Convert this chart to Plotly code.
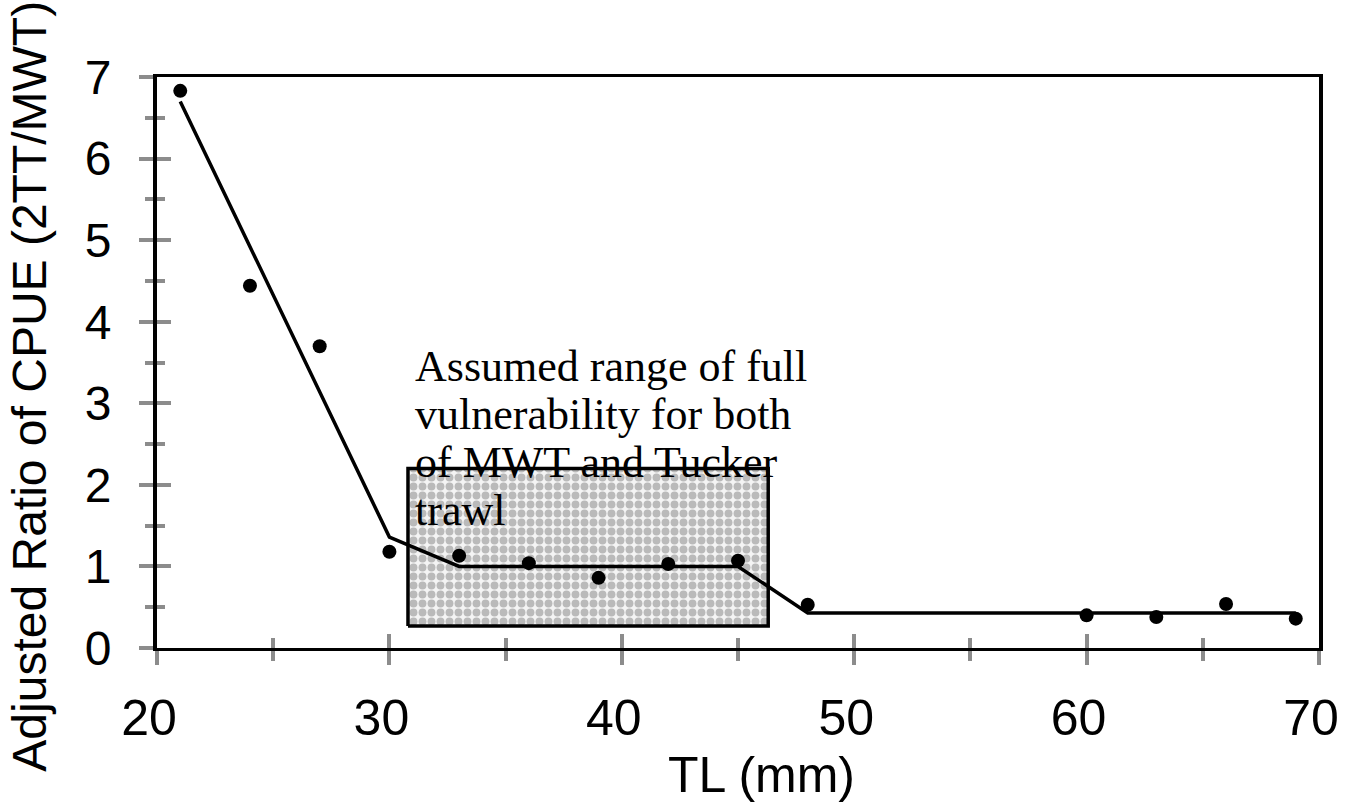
import plotly.graph_objects as go

# Data
tl = [21, 24, 27, 30, 33, 36, 39, 42, 45, 48, 60, 63, 66, 69]
ratio = [6.83, 4.44, 3.70, 1.18, 1.13, 1.04, 0.86, 1.03, 1.07, 0.53, 0.40, 0.38, 0.54, 0.36]

fit_x = [21, 30, 33, 45, 48, 69]
fit_y = [6.70, 1.36, 1.00, 1.00, 0.43, 0.43]

box_x = [30.8, 46.3]
box_y = [0.27, 2.20]

note_lines = ["Assumed range of full", "vulnerability for both", "of MWT and Tucker", "trawl"]
note_x = 31.0
note_y = [3.45, 2.86, 2.27, 1.69]
x_title = "TL (mm)"
y_title = "Adjusted Ratio of CPUE (2TT/MWT)"

fig = go.Figure()

# shaded range box
fig.add_trace(go.Scatter(
    x=[box_x[0], box_x[1], box_x[1], box_x[0], box_x[0]],
    y=[box_y[0], box_y[0], box_y[1], box_y[1], box_y[0]],
    mode="lines", fill="toself",
    fillcolor="#f4f4f4",
    fillpattern=dict(shape=".", fgcolor="#808080", bgcolor="#f4f4f4", size=9, solidity=0.6),
    line=dict(color="black", width=3.5),
    hoverinfo="skip", showlegend=False,
))

fig.add_trace(go.Scatter(
    x=fit_x, y=fit_y, mode="lines",
    line=dict(color="black", width=3.5), showlegend=False,
))

fig.add_trace(go.Scatter(
    x=tl, y=ratio, mode="markers",
    marker=dict(color="black", size=14, symbol="circle"), showlegend=False,
))

# invisible trace so the secondary axes (inside ticks) render
fig.add_trace(go.Scatter(x=[20, 70], y=[0, 7], xaxis="x2", yaxis="y2", mode="markers",
                         marker=dict(opacity=0), hoverinfo="skip", showlegend=False))

tick_gray = "#8c8c8c"

annotations = []
for line, yy in zip(note_lines, note_y):
    annotations.append(dict(text=line, x=note_x, y=yy, xref="x", yref="y",
                            xanchor="left", yanchor="middle", align="left", showarrow=False,
                            font=dict(family="Liberation Serif, Times New Roman", size=44, color="black")))
annotations += [
    dict(text=x_title, x=0.52, y=-0.222, xref="paper", yref="paper",
         xanchor="center", yanchor="middle", showarrow=False,
         font=dict(family="Liberation Sans, Arial", size=50, color="black")),
    dict(text=y_title, x=-0.11, y=0.458, xref="paper", yref="paper",
         xanchor="center", yanchor="middle", textangle=-90, showarrow=False,
         font=dict(family="Liberation Sans, Arial", size=48, color="black")),
]

fig.update_layout(
    width=1352, height=806,
    margin=dict(l=157, r=33, t=77, b=158, autoexpand=False),
    paper_bgcolor="white", plot_bgcolor="white",
    xaxis=dict(
        range=[20, 70], dtick=10, tick0=20, showgrid=False, zeroline=False, automargin=False,
        showline=True, linecolor="black", linewidth=3, mirror=True,
        ticks="outside", ticklen=14, tickwidth=4, tickcolor=tick_gray,
        minor=dict(dtick=5, ticks="outside", ticklen=10, tickwidth=4, tickcolor=tick_gray, showgrid=False),
        tickfont=dict(family="Liberation Sans, Arial", size=50, color="black"),
        ticklabelstandoff=10, ticklabelshift=-8,
    ),
    yaxis=dict(
        range=[0, 7], dtick=1, showgrid=False, zeroline=False, automargin=False,
        showline=True, linecolor="black", linewidth=4, mirror=True,
        ticks="outside", ticklen=14, tickwidth=4, tickcolor=tick_gray,
        minor=dict(dtick=0.5, ticks="outside", ticklen=8, tickwidth=4, tickcolor=tick_gray, showgrid=False),
        tickfont=dict(family="Liberation Sans, Arial", size=48, color="black"),
        ticklabelstandoff=18,
    ),
    xaxis2=dict(
        range=[20, 70], dtick=10, tick0=20, overlaying="x", side="bottom", anchor="y2",
        showgrid=False, zeroline=False, showticklabels=False, showline=False, automargin=False,
        ticks="inside", ticklen=14, tickwidth=4, tickcolor=tick_gray, layer="above traces",
        minor=dict(dtick=5, ticks="inside", ticklen=10, tickwidth=4, tickcolor=tick_gray, showgrid=False),
    ),
    yaxis2=dict(
        range=[0, 7], dtick=1, overlaying="y", side="left", anchor="x2",
        showgrid=False, zeroline=False, showticklabels=False, showline=False, automargin=False,
        ticks="inside", ticklen=14, tickwidth=4, tickcolor=tick_gray, layer="above traces",
        minor=dict(dtick=0.5, ticks="inside", ticklen=8, tickwidth=4, tickcolor=tick_gray, showgrid=False),
    ),
    annotations=annotations,
)

fig.write_html("out.html", config={"displayModeBar": False},
               post_script="document.body.style.margin='0px';")
